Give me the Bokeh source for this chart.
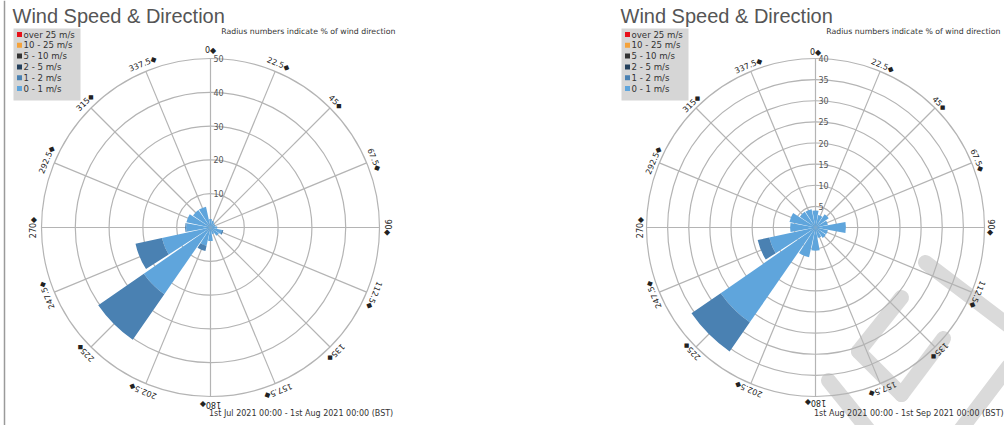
import numpy as np
from bokeh.plotting import figure
from bokeh.layouts import row
from bokeh.models import Range1d
from bokeh.core.properties import value
from bokeh.embed import file_html
from bokeh.resources import INLINE

# ---------------- data ----------------
directions = [0, 22.5, 45, 67.5, 90, 112.5, 135, 157.5, 180, 202.5, 225, 247.5, 270, 292.5, 315, 337.5]
direction_labels = ["0", "22.5", "45", "67.5", "90", "112.5", "135", "157.5",
                    "180", "202.5", "225", "247.5", "270", "292.5", "315", "337.5"]

# legend order (as shown)
speed_bins = ["over 25 m/s", "10 - 25 m/s", "5 - 10 m/s", "2 - 5 m/s", "1 - 2 m/s", "0 - 1 m/s"]
bin_colors = ["#e8101a", "#f5a23a", "#333333", "#24405c", "#4a81b2", "#5fa5dc"]

# July 2021 (% of time per direction, per speed bin)
jul_0_1 = [2.5, 2.0, 1.5, 1.5, 2.0, 3.5, 3.0, 2.0, 4.0, 5.5, 24.0, 14.7, 7.2, 7.3, 6.3, 6.3]
jul_1_2 = [0, 0, 0, 0, 0, 0.4, 0, 0, 0, 1.6, 16.4, 8.0, 0.3, 0, 0, 0]
jul_2_5 = [0, 0, 0, 0, 0, 0, 0, 0, 0, 0, 0, 0, 0, 0, 0, 0]
jul_5_10 = [0, 0, 0, 0, 0, 0, 0, 0, 0, 0, 0, 0, 0, 0, 0, 0]
jul_10_25 = [0, 0, 0, 0, 0, 0, 0, 0, 0, 0, 0, 0, 0, 0, 0, 0]
jul_over_25 = [0, 0, 0, 0, 0, 0, 0, 0, 0, 0, 0, 0, 0, 0, 0, 0]

# August 2021
aug_0_1 = [4.0, 3.0, 3.8, 3.0, 7.2, 3.0, 3.0, 2.5, 5.5, 7.2, 27.3, 11.2, 6.0, 6.3, 4.5, 4.4]
aug_1_2 = [0, 0, 0, 0, 0, 0, 0, 0, 0, 0, 8.4, 2.8, 0, 0, 0, 0]
aug_2_5 = [0, 0, 0, 0, 0, 0, 0, 0, 0, 0, 0, 0, 0, 0, 0, 0]
aug_5_10 = [0, 0, 0, 0, 0, 0, 0, 0, 0, 0, 0, 0, 0, 0, 0, 0]
aug_10_25 = [0, 0, 0, 0, 0, 0, 0, 0, 0, 0, 0, 0, 0, 0, 0, 0]
aug_over_25 = [0, 0, 0, 0, 0, 0, 0, 0, 0, 0, 0, 0, 0, 0, 0, 0]

jul_ticks = [10, 20, 30, 40, 50]
aug_ticks = [5, 10, 15, 20, 25, 30, 35, 40]

title_text = "Wind Speed & Direction"
subtitle_text = "Radius numbers indicate % of wind direction"
jul_period = "1st Jul 2021 00:00 - 1st Aug 2021 00:00 (BST)"
aug_period = "1st Aug 2021 00:00 - 1st Sep 2021 00:00 (BST)"

# ---------------- style / layout (page pixels) ----------------
H = 425
GRID = "#b4b4b4"
HALF_WIDTH = 10.3  # degrees
WATERMARK = "#dadada"


def windrose(width, origin_x, cx, cy, rmax, ticks, stacks, title_px, period, label_r,
             watermark=None, border_px=None):
    """stacks: list of series from inner (0-1) to outer (over 25)."""
    s = 169.0 / rmax  # px per %
    p = figure(width=width, height=H, output_backend="svg", toolbar_location=None,
               x_range=Range1d(-cx / s, (width - cx) / s),
               y_range=Range1d(-(H - cy) / s, cy / s),
               min_border=0, outline_line_color=None)
    p.axis.visible = False
    p.grid.visible = False
    p.background_fill_color = "white"

    def fx(px):  # page x pixel -> data
        return (px - origin_x - cx) / s

    def fy(py):  # page y pixel -> data
        return (cy - py) / s

    if border_px is not None:
        p.segment(x0=[fx(border_px)], y0=[fy(0)], x1=[fx(border_px)], y1=[fy(H)],
                  line_color="#9a9a9a", line_width=1.5)

    if watermark:
        p.multi_line(xs=[[fx(a[0]), fx(b[0])] for a, b in watermark],
                     ys=[[fy(a[1]), fy(b[1])] for a, b in watermark],
                     line_color=WATERMARK, line_width=15, line_cap="round", line_join="round")

    d = np.radians(directions)
    # grid
    p.circle(x=[0] * len(ticks), y=[0] * len(ticks), radius=ticks,
             fill_color=None, line_color=GRID, line_width=1.2)
    p.segment(x0=[0] * 16, y0=[0] * 16, x1=list(rmax * np.sin(d)), y1=list(rmax * np.cos(d)),
              line_color=GRID, line_width=1.2)

    # stacked wedges
    inner_to_outer_colors = bin_colors[::-1]
    base = np.zeros(16)
    ang_start = np.radians(90 - np.array(directions) - HALF_WIDTH)
    ang_end = np.radians(90 - np.array(directions) + HALF_WIDTH)
    for vals, col in zip(stacks, inner_to_outer_colors):
        v = np.array(vals, dtype=float)
        m = v > 0
        if m.any():
            p.annular_wedge(x=[0] * int(m.sum()), y=[0] * int(m.sum()),
                            inner_radius=list(base[m]), outer_radius=list((base + v)[m]),
                            start_angle=list(ang_start[m]), end_angle=list(ang_end[m]),
                            fill_color=col, line_color=None)
        base = base + v

    # radial tick labels
    p.text(x=[0] * len(ticks), y=ticks, text=[str(t) for t in ticks], x_offset=3,
           text_font=value("DejaVu Sans"), text_font_size="8px", text_color="#555555",
           text_align="left", text_baseline="middle")

    # direction labels
    rl = label_r / s
    p.text(x=list(rl * np.sin(d)), y=list(rl * np.cos(d)),
           text=[lab + "\u25c6" for lab in direction_labels], angle=list(-d),
           text_font=value("DejaVu Sans"), text_font_size="8px", text_color="#222222",
           text_align="center", text_baseline="middle")

    # titles
    p.text(x=[fx(title_px)], y=[fy(15.5)], text=[title_text], text_font=value("Liberation Sans"),
           text_font_size="20px", text_color="#555555", text_align="left",
           text_baseline="alphabetic")
    p.text(x=[10.7 / s], y=[fy(31)], text=[subtitle_text], text_font=value("DejaVu Sans"),
           text_font_size="7.8px", text_color="#333333", text_align="left",
           text_baseline="middle")
    p.text(x=[-1.5 / s], y=[fy(413)], text=[period], text_font=value("DejaVu Sans"),
           text_font_size="8px", text_color="#333333", text_align="left",
           text_baseline="middle")

    # legend box (drawn in place, top-left)
    lx0 = title_px + 1
    box_top, box_bot = 28, 100
    p.quad(left=[fx(lx0)], right=[fx(lx0 + 67)], top=[fy(box_top)], bottom=[fy(box_bot)],
           fill_color="#d6d6d6", line_color=None)
    n = len(speed_bins)
    row_y = [34 + i * 10.8 for i in range(n)]
    p.quad(left=[fx(lx0 + 3.5)] * n, right=[fx(lx0 + 8.5)] * n,
           top=[fy(yy - 2.5) for yy in row_y], bottom=[fy(yy + 2.5) for yy in row_y],
           fill_color=bin_colors, line_color=None)
    p.text(x=[fx(lx0 + 10)] * n, y=[fy(yy) for yy in row_y], text=speed_bins,
           text_font=value("DejaVu Sans"), text_font_size="8.6px", text_color="#333333",
           text_align="left", text_baseline="middle")
    return p


# watermark strokes on the right panel (page pixels)
aug_watermark = [((925, 262), (1012, 328)),
                 ((901, 297), (858, 351)),
                 ((858, 351), (901, 394)),
                 ((943, 338), (901, 394)),
                 ((1008, 366), (958, 432)),
                 ((828, 380), (870, 432))]

left = windrose(505, 0, 210, 227, 50, jul_ticks,
                [jul_0_1, jul_1_2, jul_2_5, jul_5_10, jul_10_25, jul_over_25], 12, jul_period,
                177.0, border_px=4)
right = windrose(499, 505, 310, 227, 40, aug_ticks,
                 [aug_0_1, aug_1_2, aug_2_5, aug_5_10, aug_10_25, aug_over_25], 620, aug_period,
                 175.0, watermark=aug_watermark)

layout = row(left, right)
open("out.html", "w").write(file_html(layout, INLINE))
